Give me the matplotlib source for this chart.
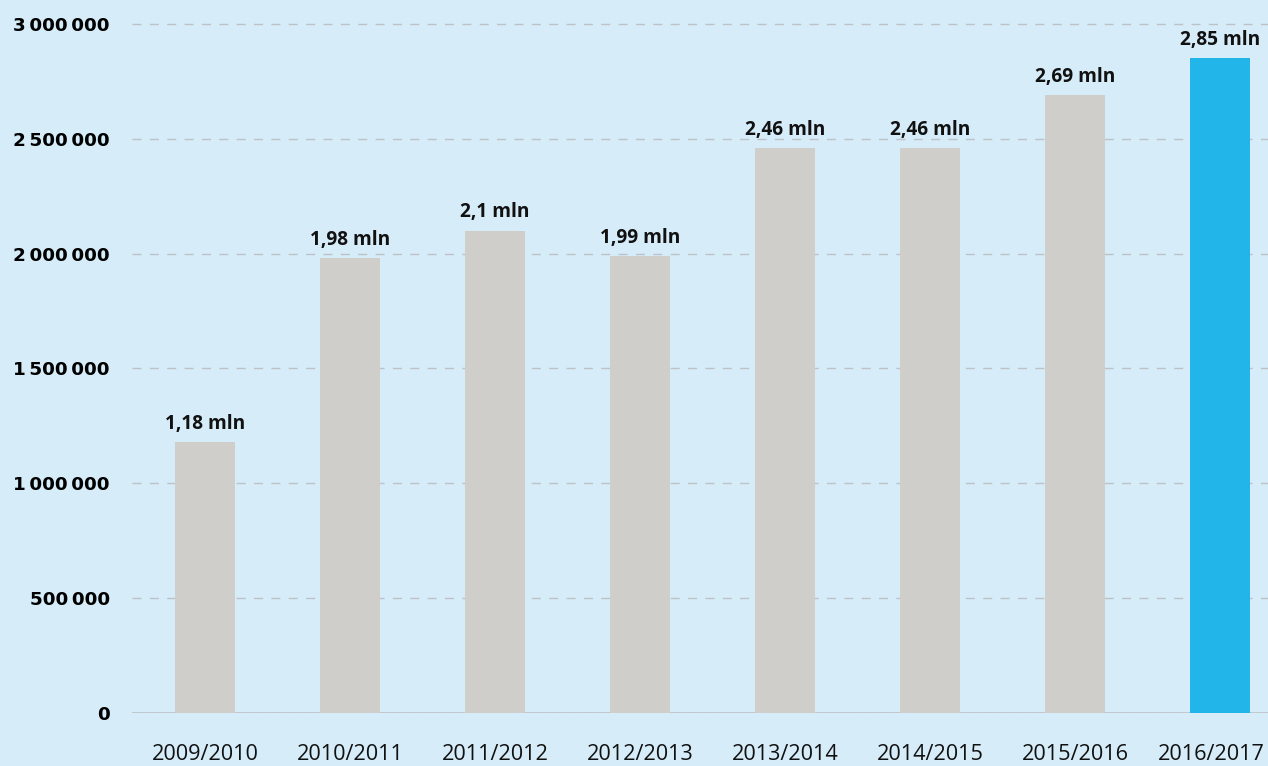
import matplotlib.pyplot as plt
import matplotlib.transforms as mtransforms
from matplotlib.ticker import FuncFormatter

# Seasons and totals (millions)
seasons = ['2009/2010', '2010/2011', '2011/2012', '2012/2013',
           '2013/2014', '2014/2015', '2015/2016', '2016/2017']
totals_mln = [1.18, 1.98, 2.1, 1.99, 2.46, 2.46, 2.69, 2.85]
value_labels = ['1,18 mln', '1,98 mln', '2,1 mln', '1,99 mln',
                '2,46 mln', '2,46 mln', '2,69 mln', '2,85 mln']
yticks = [0, 500000, 1000000, 1500000, 2000000, 2500000, 3000000]

bg = '#d6ecf8'
bar_colors = ['#cfcecb'] * 7 + ['#22b5ea']
values = [v * 1e6 for v in totals_mln]

fig = plt.figure(figsize=(12.68, 7.66), dpi=100, facecolor=bg)
ax = fig.add_axes([132 / 1268, 53 / 766, 1 - 132 / 1268, 1 - 53 / 766], facecolor=bg)

x = range(len(seasons))
bars = ax.bar(x, values, width=0.41, color=bar_colors, zorder=3)

for b, lab in zip(bars, value_labels):
    ax.annotate(lab, (b.get_x() + b.get_width() / 2, b.get_height()),
                xytext=(0, 6), textcoords='offset points', ha='center', va='bottom',
                fontsize=13.8, fontweight='bold', family='Open Sans', color='#111111')

ax.set_xlim(-0.503, 7.33)
ax.set_ylim(0, 3.104e6)
ax.set_yticks(yticks)
ax.yaxis.set_major_formatter(FuncFormatter(lambda v, p: f'{int(v):,}'.replace(',', '\u2009')))
ax.set_xticks(list(x))
ax.set_xticklabels(seasons, family='Open Sans', fontsize=15.6, color='#111111')
for t in ax.get_yticklabels():
    t.set_family('DejaVu Sans')
    t.set_fontweight('bold')
    t.set_fontsize(13.2)
    t.set_color('#000000')

ax.tick_params(axis='both', length=0)
ax.tick_params(axis='y', pad=16)
ax.tick_params(axis='x', pad=22)

# nudge the last season label left so it stays inside the figure
last = ax.get_xticklabels()[-1]
last.set_transform(last.get_transform()
                   + mtransforms.ScaledTranslation(-9 / 100, 0, fig.dpi_scale_trans))

ax.grid(axis='y', color='#bcc2c6', linestyle=(0, (6.5, 6)), linewidth=1, zorder=0)
for s in ax.spines.values():
    s.set_visible(False)
ax.axhline(0, color='#bcc3c8', linewidth=1.2, zorder=2)

fig.savefig('out.png', dpi=100, facecolor=bg)
